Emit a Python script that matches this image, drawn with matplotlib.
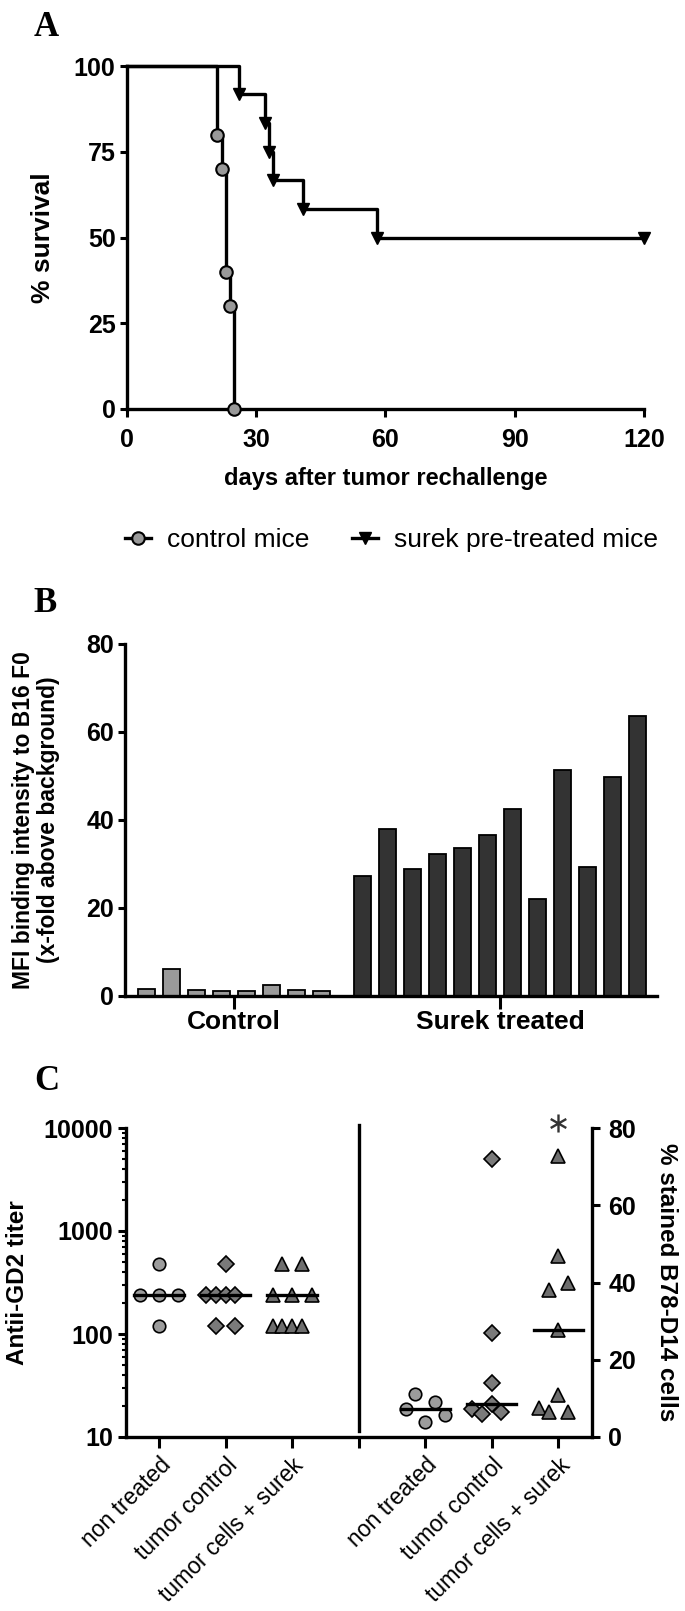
import numpy as np
import matplotlib
matplotlib.use("Agg")
import matplotlib.pyplot as plt
from matplotlib.lines import Line2D
from matplotlib.ticker import LogLocator, NullFormatter

plt.rcParams['font.family'] = ['Liberation Sans', 'DejaVu Sans']

# ---- panel A: survival after rechallenge ----
ctrl_days = [0, 21, 22, 23, 24, 25]
ctrl_surv = [100, 80, 70, 40, 30, 0]
surek_days = [0, 26, 32, 33, 34, 41, 58, 120]
surek_surv = [100, 91.7, 83.3, 75, 66.7, 58.3, 50, 50]

# ---- panel B: MFI binding intensity ----
control_mfi = [1.6, 6.0, 1.4, 1.0, 1.1, 2.5, 1.2, 1.0]
surek_mfi = [27.3, 37.9, 28.9, 32.1, 33.6, 36.6, 42.5, 22.0, 51.3, 29.3, 49.8, 63.5]

# ---- panel C: anti-GD2 titer (left) and % stained cells (right) ----
groups = ['non treated', 'tumor control', 'tumor cells + surek']
titer_non = [480, 240, 240, 240, 120]
titer_tumor = [480, 240, 240, 240, 240, 120, 120]
titer_surek = [480, 480, 240, 240, 240, 120, 120, 120, 120]
stain_non = [11.1, 7.2, 9.0, 4.0, 5.7]
stain_tumor = [72.1, 26.9, 13.9, 8.5, 7.2, 6.6, 5.9]
stain_surek = [72.8, 46.8, 38.0, 39.9, 27.8, 10.9, 7.6, 6.6, 6.6]

# horizontal spread of overlapping points (in steps)
off_titer_non = [0, -2, 0, 2, 0]
off_titer_tumor = [0, -2, -1, 0, 1, -1, 1]
off_titer_surek = [-1, 1, -2, 0, 2, -2, -1, 0, 1]
off_stain_non = [-1, -2, 1, 0, 2]
off_stain_tumor = [0, 0, 0, 0, -2, 1, -1]
off_stain_surek = [0, 0, -1, 1, 0, 0, -2, -1, 1]

W, H = 685, 1611
fig = plt.figure(figsize=(W / 100, H / 100), dpi=100)


def box(x0, y0, x1, y1):
    return [x0 / W, 1 - y1 / H, (x1 - x0) / W, (y1 - y0) / H]


def style_axis(ax):
    for s in ['top', 'right']:
        ax.spines[s].set_visible(False)
    for s in ['left', 'bottom']:
        ax.spines[s].set_linewidth(2.4)
    ax.tick_params(direction='out', width=2.2, length=5, labelsize=18)


def bold_ticks(ax):
    for t in ax.get_xticklabels() + ax.get_yticklabels():
        t.set_fontweight('bold')


def letter(x, y, s):
    fig.text(x / W, 1 - y / H, s, fontsize=25, fontweight='bold',
             family='Liberation Serif', ha='center', va='center')


# ================= A =================
axA = fig.add_axes(box(126.7, 66, 644, 409))
style_axis(axA)
axA.step(ctrl_days, ctrl_surv, where='post', color='black', lw=2.4, clip_on=False)
axA.plot(ctrl_days[1:], ctrl_surv[1:], 'o', ms=9, mfc='#999999', mec='black',
         mew=1.5, clip_on=False, zorder=4)
axA.step(surek_days, surek_surv, where='post', color='black', lw=2.4, clip_on=False)
axA.plot(surek_days[1:], surek_surv[1:], 'v', ms=9, color='black', clip_on=False, zorder=4)
axA.set_xlim(0, 120)
axA.set_ylim(0, 100)
axA.set_xticks([0, 30, 60, 90, 120])
axA.set_yticks([0, 25, 50, 75, 100])
axA.tick_params(axis='x', length=6, pad=8)
axA.tick_params(axis='y', pad=3)
bold_ticks(axA)
axA.set_ylabel('% survival', fontsize=19, fontweight='bold')
axA.yaxis.set_label_coords(-0.139, 0.5)
axA.set_xlabel('days after tumor rechallenge', fontsize=17, fontweight='bold', va='top')
axA.xaxis.set_label_coords(0.5, -0.17)

handles = [Line2D([], [], color='black', lw=2.4, marker='o', ms=9, mfc='#999999',
                  mec='black', mew=1.5),
           Line2D([], [], color='black', lw=2.4, marker='v', ms=9)]
fig.legend(handles, ['control mice', 'surek pre-treated mice'], loc='center',
           bbox_to_anchor=(391.5 / W, 1 - 540 / H), ncol=2, frameon=False,
           fontsize=19, handlelength=1.0, handletextpad=0.6, columnspacing=1.6)
letter(46, 27, 'A')

# ================= B =================
axB = fig.add_axes(box(125, 643.7, 657.3, 995.7))
style_axis(axB)
x_ctrl = np.arange(len(control_mfi))
x_surek = np.arange(len(surek_mfi)) + len(control_mfi) + 0.64
axB.bar(x_ctrl, control_mfi, width=0.67, color='#9a9a9a', edgecolor='black', lw=1.3)
axB.bar(x_surek, surek_mfi, width=0.67, color='#333333', edgecolor='black', lw=1.3)
axB.set_xlim(-0.87, 20.42)
axB.set_ylim(0, 80)
axB.set_yticks([0, 20, 40, 60, 80])
axB.set_xticks([x_ctrl.mean(), x_surek.mean()])
axB.set_xticklabels(['Control', 'Surek treated'], fontsize=19)
axB.tick_params(axis='x', length=9, pad=1)
axB.tick_params(axis='y', pad=3)
bold_ticks(axB)
axB.set_ylabel('MFI binding intensity to B16 F0\n(x-fold above background)',
               fontsize=16.5, fontweight='bold', linespacing=1.1)
axB.yaxis.set_label_coords(-0.122, 0.5)
letter(45, 603, 'B')

# ================= C =================
axC = fig.add_axes(box(125.75, 1128, 591.5, 1437))
for s in ['top', 'right']:
    axC.spines[s].set_visible(False)
for s in ['left', 'bottom']:
    axC.spines[s].set_linewidth(2.4)
axC.set_yscale('log')
axC.set_ylim(10, 10000)
axC.set_xlim(0.5, 7.5)
axC.set_yticks([10, 100, 1000, 10000])
axC.set_yticklabels(['10', '100', '1000', '10000'])
axC.yaxis.set_minor_locator(LogLocator(base=10, subs=np.arange(2, 10)))
axC.yaxis.set_minor_formatter(NullFormatter())
axC.tick_params(axis='y', which='major', direction='out', width=2.2, length=6,
                labelsize=18, pad=3)
axC.tick_params(axis='y', which='minor', direction='out', width=1.5, length=3)
axC.set_xticks([1, 2, 3, 4, 5, 6, 7])
axC.set_xticklabels(groups + [''] + groups, rotation=45, ha='right',
                    rotation_mode='anchor', fontsize=16.5)
axC.tick_params(axis='x', direction='out', width=2.2, length=8, pad=4)
for t in axC.get_yticklabels():
    t.set_fontweight('bold')
axC.set_ylabel('Antii-GD2 titer', fontsize=17.5, fontweight='bold')
axC.yaxis.set_label_coords(-0.208, 0.5)

axC2 = axC.twinx()
for s in ['top', 'left', 'bottom']:
    axC2.spines[s].set_visible(False)
axC2.spines['right'].set_linewidth(2.4)
axC2.set_ylim(0, 80)
axC2.set_yticks([0, 20, 40, 60, 80])
axC2.tick_params(axis='y', direction='out', width=2.2, length=6, labelsize=18, pad=6)
for t in axC2.get_yticklabels():
    t.set_fontweight('bold')
axC2.set_ylabel('% stained B78-D14 cells', fontsize=17.5, fontweight='bold',
                rotation=270, va='bottom')
axC2.yaxis.set_label_coords(1.136, 0.5)

step = 0.146
half = 0.37
markers = [('o', '#9c9c9c', 9.0), ('D', '#7a7a7a', 8.0), ('^', '#6e6e6e', 9.5)]
left_sets = [(titer_non, off_titer_non), (titer_tumor, off_titer_tumor),
             (titer_surek, off_titer_surek)]
right_sets = [(stain_non, off_stain_non), (stain_tumor, off_stain_tumor),
              (stain_surek, off_stain_surek)]
for i, ((vals, offs), (m, c, ms)) in enumerate(zip(left_sets, markers)):
    pos = 1 + i
    axC.plot(pos + np.array(offs) * step, vals, m, ms=ms, mfc=c, mec='black',
             mew=1.2, zorder=3)
    med = np.median(vals)
    axC.plot([pos - half, pos + half], [med, med], color='black', lw=2.4, zorder=4)
for i, ((vals, offs), (m, c, ms)) in enumerate(zip(right_sets, markers)):
    pos = 5 + i
    axC2.plot(pos + np.array(offs) * step, vals, m, ms=ms, mfc=c, mec='black',
              mew=1.2, zorder=3)
    med = np.median(vals)
    axC2.plot([pos - half, pos + half], [med, med], color='black', lw=2.4, zorder=4)

axC.axvline(4, ymin=0.02, ymax=1.01, color='black', lw=2.4, clip_on=False)
axC2.plot(7, 81.2, marker='$\\ast$', ms=13, mew=0, color='#333333', clip_on=False)
letter(47, 1081, 'C')

fig.savefig('out.png', dpi=100)
